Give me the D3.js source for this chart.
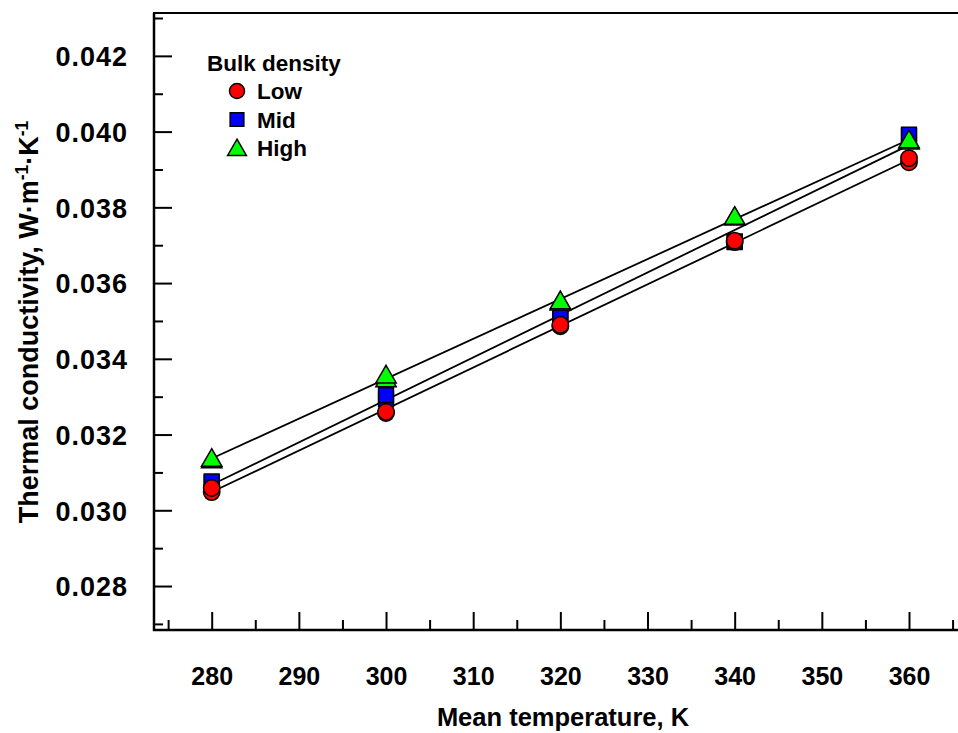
<!DOCTYPE html>
<html><head><meta charset="utf-8">
<script src="https://cdn.jsdelivr.net/npm/d3@7"></script>
<style>body{margin:0;background:#fff}svg{display:block}text{font-family:"Liberation Sans",Arial,sans-serif;font-weight:bold;fill:#000}</style>
</head><body>
<svg id="c" width="958" height="733"></svg>
<script>
const temps = [280, 300, 320, 340, 360];
const lowA  = [0.03048, 0.03257, 0.03486, 0.03708, 0.03919];
const lowB  = [0.03059, 0.03260, 0.03490, 0.03712, 0.03930];
const midA  = [0.03072, 0.03294, 0.03505, 0.03708, 0.03988];
const midB  = [0.03076, 0.03304, 0.03510, 0.03710, 0.03992];
const highA = [0.03133, 0.03347, 0.03550, 0.03774, 0.03975];
const highB = [0.03137, 0.03357, 0.03553, 0.03776, 0.03978];
const xTicks = [280, 290, 300, 310, 320, 330, 340, 350, 360];
const yTicks = [0.028, 0.030, 0.032, 0.034, 0.036, 0.038, 0.040, 0.042];
const seriesNames = ["Low", "Mid", "High"];
const legendTitle = "Bulk density";

const svg = d3.select("#c");
const x = d3.scaleLinear().domain([280, 360]).range([211.7, 909]);
const y = d3.scaleLinear().domain([0.027, 0.043]).range([623.9, 18.0]);
const axLeft = 154, axBottom = 630, axTop = 13, axRight = 958;

// frame lines
svg.append("line").attr("x1", axLeft).attr("x2", axLeft).attr("y1", axTop).attr("y2", axBottom + 1).attr("stroke", "#000").attr("stroke-width", 2.5);
svg.append("line").attr("x1", axLeft - 1).attr("x2", axRight).attr("y1", axBottom).attr("y2", axBottom).attr("stroke", "#000").attr("stroke-width", 2.5);
svg.append("line").attr("x1", axLeft - 1).attr("x2", axRight).attr("y1", axTop).attr("y2", axTop).attr("stroke", "#000").attr("stroke-width", 2);

// y axis (ticks inward)
const yMinor = d3.range(0.027, 0.0435, 0.001);
const yAx = d3.axisRight(y).tickValues(yMinor).tickSize(9).tickFormat("");
const gy = svg.append("g").attr("transform", `translate(${axLeft},0)`).call(yAx);
gy.select(".domain").remove();
gy.selectAll(".tick line").attr("stroke-width", 2)
  .filter(d => yTicks.some(t => Math.abs(t - d) < 1e-9)).attr("x2", 18);
const yLab = d3.axisLeft(y).tickValues(yTicks).tickSize(0).tickPadding(0).tickFormat(d3.format(".3f"));
const gyl = svg.append("g").attr("transform", `translate(128,0)`).call(yLab);
gyl.select(".domain").remove();
gyl.selectAll("text").style("font-size", "27px").style("letter-spacing", "1px").attr("dy", "0.36em").attr("x", 0);

// x axis (ticks inward)
const xMinor = d3.range(275, 366, 5);
const xAx = d3.axisTop(x).tickValues(xMinor).tickSize(10).tickFormat("");
const gx = svg.append("g").attr("transform", `translate(0,${axBottom})`).call(xAx);
gx.select(".domain").remove();
gx.selectAll(".tick line").attr("stroke-width", 2)
  .filter(d => xTicks.includes(d)).attr("y2", -18);
const xLab = d3.axisBottom(x).tickValues(xTicks).tickSize(0).tickPadding(0).tickFormat(d3.format("d"));
const gxl = svg.append("g").attr("transform", `translate(0,685)`).call(xLab);
gxl.select(".domain").remove();
gxl.selectAll("text").style("font-size", "25px").attr("dy", 0).attr("y", 0);

// regression lines
function fit(a, b) {
  const xs = temps.concat(temps), ys = a.concat(b);
  const mx = d3.mean(xs), my = d3.mean(ys);
  const s = d3.sum(xs, (v, i) => (v - mx) * (ys[i] - my)) / d3.sum(xs, v => (v - mx) ** 2);
  return t => my + s * (t - mx);
}
const fits = [fit(lowA, lowB), fit(midA, midB), fit(highA, highB)];
fits.forEach(f => {
  svg.append("line").attr("x1", x(280)).attr("y1", y(f(280))).attr("x2", x(360)).attr("y2", y(f(360)))
    .attr("stroke", "#000").attr("stroke-width", 1.8);
});

// markers
const sym = {
  Low:  {shape: d3.symbolCircle, size: 210, fill: "#ff0000"},
  Mid:  {shape: d3.symbolSquare, size: 220, fill: "#0000ff"},
  High: {shape: d3.symbolTriangle, size: 180, fill: "#00ff00"}
};
function draw(name, vals) {
  const s = sym[name];
  const dy = name === "High" ? 2 : 0;
  svg.append("g").selectAll("path").data(vals.map((v, i) => [temps[i], v])).join("path")
    .attr("d", d3.symbol(s.shape, s.size))
    .attr("transform", d => `translate(${x(d[0])},${y(d[1]) + dy})`)
    .attr("fill", s.fill).attr("stroke", "#000").attr("stroke-width", 1.5);
}
draw("Mid", midA); draw("Mid", midB);
draw("High", highA); draw("High", highB);
draw("Low", lowA); draw("Low", lowB);

// legend
svg.append("text").attr("x", 207).attr("y", 71).style("font-size", "22.5px").text(legendTitle);
seriesNames.forEach((n, i) => {
  const cy = 91 + i * 28.5;
  const s = sym[n];
  svg.append("path").attr("d", d3.symbol(s.shape, s.size * 0.85))
    .attr("transform", `translate(237,${cy + (n === "High" ? 2 : 0)})`)
    .attr("fill", s.fill).attr("stroke", "#000").attr("stroke-width", 1.5);
  svg.append("text").attr("x", 257).attr("y", cy + 8).style("font-size", "22.5px").text(n);
});

// axis titles
svg.append("text").attr("x", 563).attr("y", 726).attr("text-anchor", "middle").style("font-size", "25.5px").text("Mean temperature, K");
const yt = svg.append("text").attr("transform", "translate(38,322) rotate(-90)").attr("text-anchor", "middle").style("font-size", "27px");
yt.append("tspan").text("Thermal conductivity, W·m");
yt.append("tspan").attr("dy", -10).style("font-size", "17.5px").text("-1");
yt.append("tspan").attr("dy", 10).text("·K");
yt.append("tspan").attr("dy", -10).style("font-size", "17.5px").text("-1");
</script>
</body></html>
